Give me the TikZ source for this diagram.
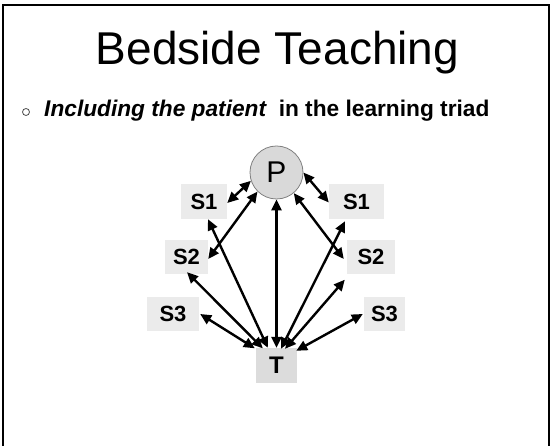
\documentclass[tikz,border=0pt]{standalone}
\usepackage{fontspec}
\setmainfont{Liberation Sans}
\usetikzlibrary{arrows.meta}
\begin{document}
\begin{tikzpicture}[x=1pt,y=-1pt,
  sbox/.style={fill=boxgray,inner sep=0pt,font=\fontsize{22}{24}\selectfont\bfseries},
  tbox/.style={fill=tgray,inner sep=0pt,font=\fontsize{24}{26}\selectfont\bfseries},
  link/.style={line width=2.4pt,{Triangle[length=11pt,width=10pt]}-{Triangle[length=11pt,width=10pt]}},
]
\definecolor{boxgray}{HTML}{EBEBEB}
\definecolor{tgray}{HTML}{DCDCDC}
\definecolor{pgray}{HTML}{D9D9D9}
\useasboundingbox (0,0) rectangle (550,446);
% frame
\draw[line width=2pt] (3,447) -- (3,5) -- (549,5) -- (549,447);
% title
\node[anchor=base,inner sep=0pt,font=\fontsize{46}{50}\selectfont] (title) at (277.5,65) {Bedside Teaching};
% bullet
\node[circle,draw=black!70,line width=0.8pt,minimum size=7pt,inner sep=0pt] (bul) at (26,112) {};
\node[anchor=base west,inner sep=0pt,font=\fontsize{22.7}{26}\selectfont\bfseries] (sub) at (44,117)
  {\itshape Including the patient\upshape\ \ in the learning triad};
% nodes
\node[circle,fill=pgray,draw=gray,line width=0.8pt,minimum size=53pt,inner sep=0pt,font=\fontsize{30}{32}\selectfont] (P) at (276.5,172.5) {P};
\node[sbox,minimum width=46pt,minimum height=35pt] (S1L) at (204,201.5) {S1};
\node[sbox,minimum width=55pt,minimum height=35pt] (S1R) at (356.5,201.5) {S1};
\node[sbox,minimum width=43pt,minimum height=34pt] (S2L) at (186.5,257) {S2};
\node[sbox,minimum width=48pt,minimum height=34pt] (S2R) at (371,257) {S2};
\node[sbox,minimum width=52pt,minimum height=34pt] (S3L) at (173,314) {S3};
\node[sbox,minimum width=41pt,minimum height=34pt] (S3R) at (384.5,314) {S3};
\node[tbox,minimum width=41pt,minimum height=35pt] (T) at (276.5,365.5) {T};
% connectors
\draw[link] ([yshift=-1.5pt]S1L.east) -- (P.198);
\draw[link] (P.0) -- ([yshift=-1pt]S1R.west);
\draw[link] ([yshift=-2pt]S2L.east) -- (P.225);
\draw[link] ([xshift=4pt]S1L.south) -- ([xshift=12pt]T.north west);
\draw[link] (P.south) -- (T.north);
\draw[link] ([xshift=0.5pt,yshift=2pt]S2L.south) -- ([xshift=7pt,yshift=-0.5pt]T.north west);
\draw[link] ([xshift=1pt]S3L.east) -- ([xshift=-1pt,yshift=-0.5pt]T.north west);
\draw[link] ([xshift=-2pt,yshift=-5.5pt]S2R.south west) -- ([xshift=8.5pt,yshift=-1pt]T.north);
\draw[link] ([xshift=-1pt]S3R.west) -- ([xshift=-1pt,yshift=-3pt]T.north east);
\draw[link] ([xshift=-11.5pt,yshift=-2pt]S1R.south) -- ([xshift=4.5pt,yshift=-1pt]T.north);
\draw[link] (P.310) -- ([xshift=-3pt,yshift=-2pt]S2R.west);
\end{tikzpicture}
\end{document}
